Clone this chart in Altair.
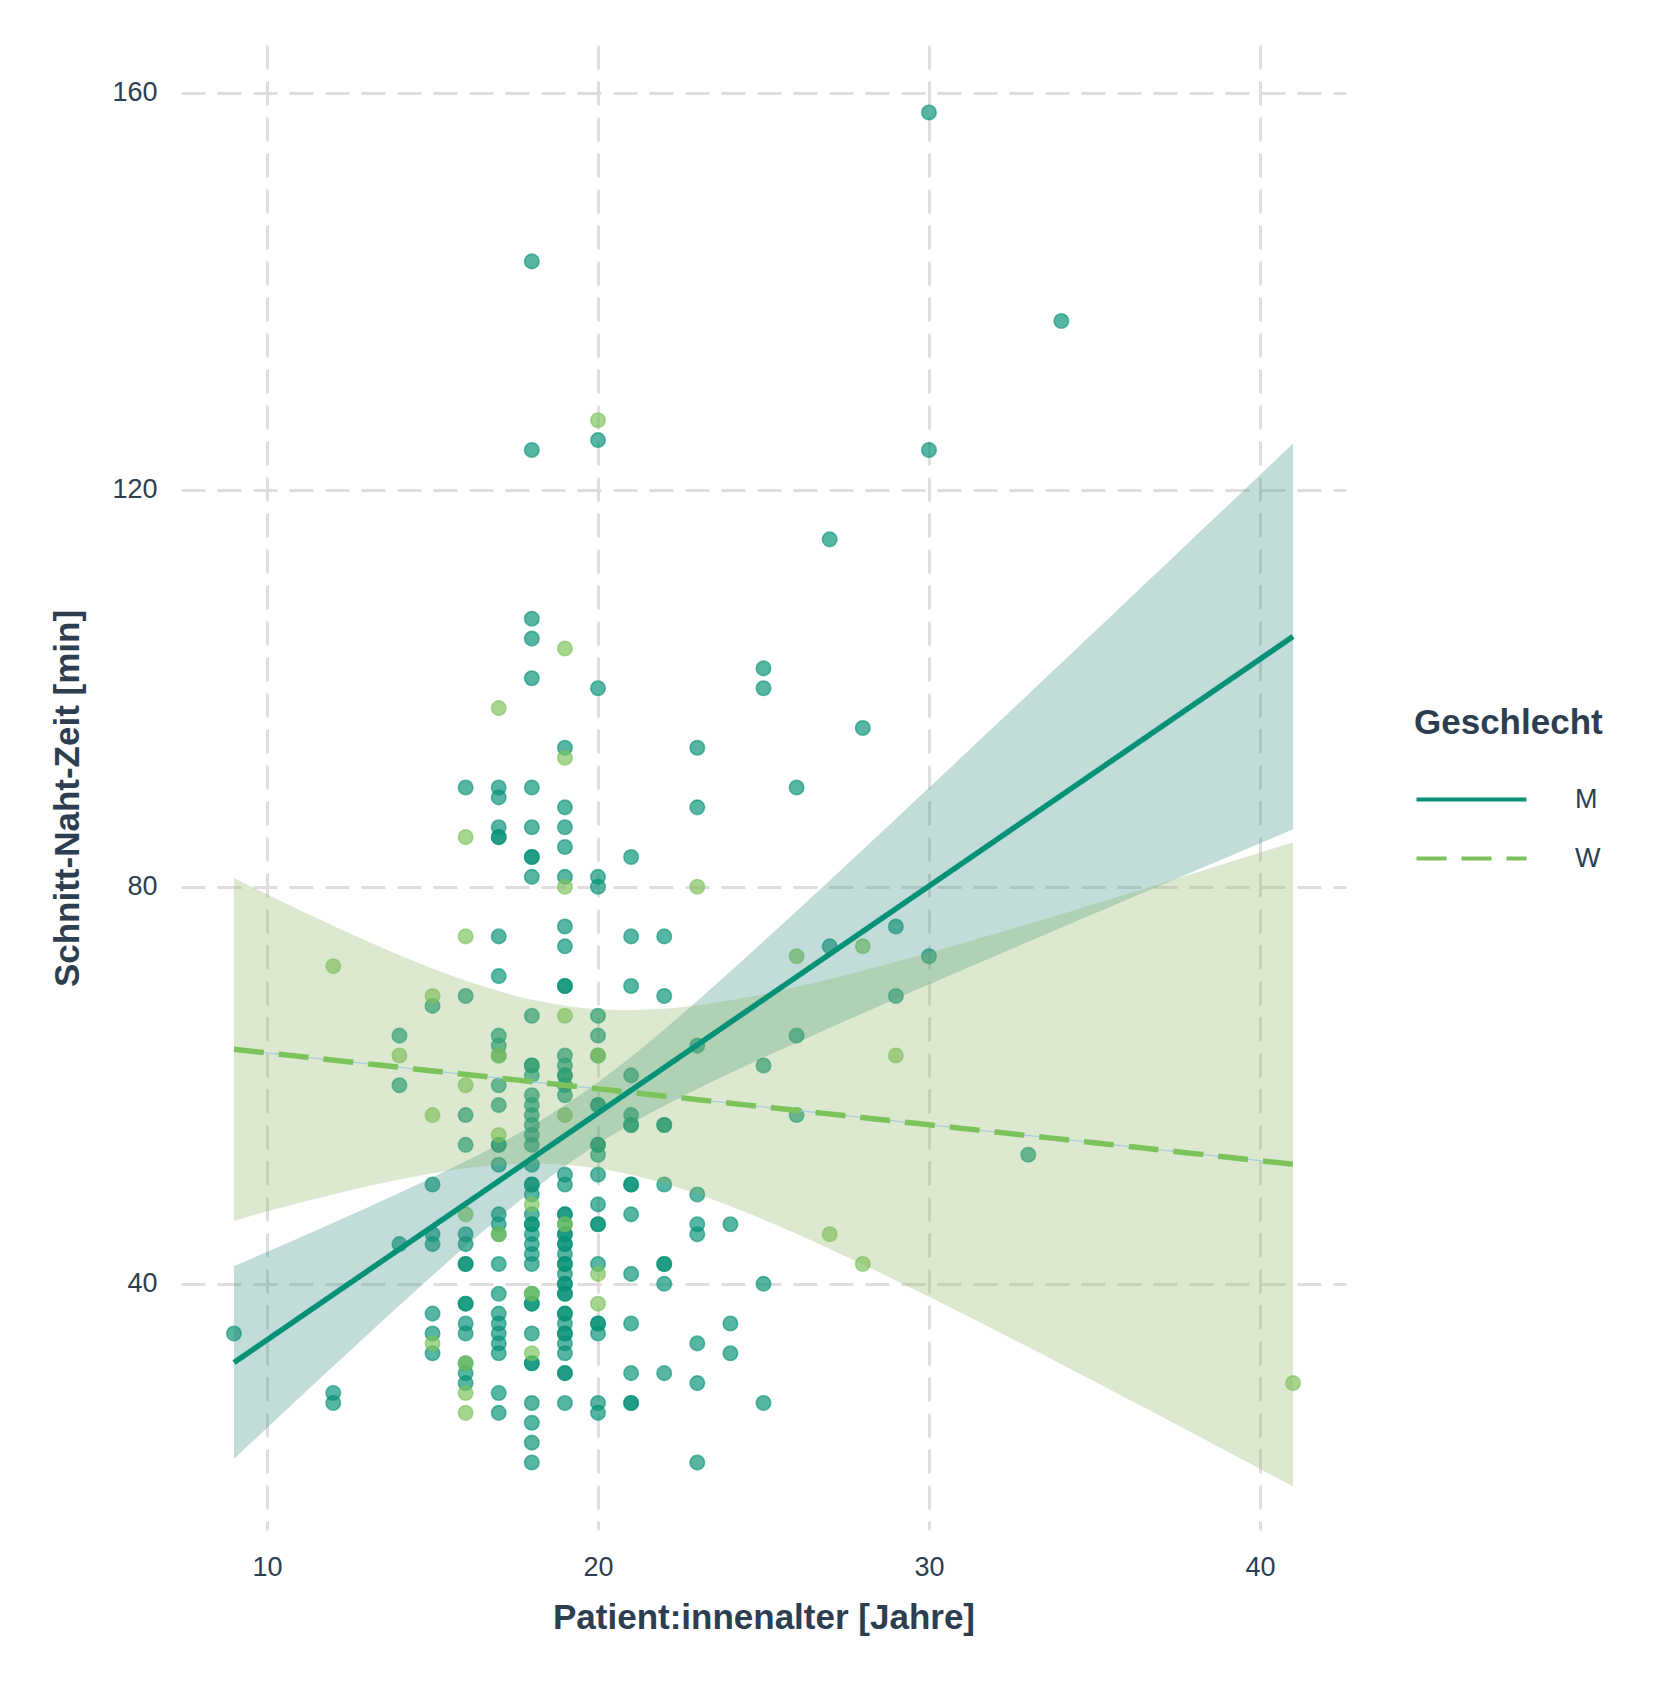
import numpy as np
import pandas as pd
import altair as alt

# ---------------- data ----------------
# Geschlecht M : ages and the cut-suture times observed at each age
m_ages = [9, 12, 14, 15, 16, 17, 18, 19, 20, 21, 22, 23, 24, 25, 26, 27, 28, 29, 30, 33, 34]
m_times = [
    [35],
    [29, 28],
    [65, 60, 44],
    [68, 50, 45, 44, 37, 35, 33],
    [90, 69, 57, 54, 45, 44, 42, 42, 38, 38, 36, 35, 32, 31, 30],
    [90, 89, 86, 85, 85, 75, 71, 65, 64, 63, 60, 58, 54, 54, 52, 47, 46, 45, 42, 39,
     37, 36, 35, 34, 33, 29, 27],
    [143, 124, 107, 105, 101, 90, 86, 83, 83, 81, 67, 62, 62, 61, 59, 58, 57, 56, 55,
     54, 52, 50, 50, 49, 47, 46, 46, 45, 44, 43, 42, 39, 38, 38, 35, 32, 32, 28, 26, 24, 22],
    [94, 88, 86, 84, 81, 76, 74, 70, 70, 63, 62, 61, 61, 60, 59, 51, 50, 47, 47, 46,
     45, 45, 44, 44, 43, 42, 42, 41, 40, 40, 39, 39, 37, 37, 36, 35, 35, 34, 33, 31, 31, 28],
    [125, 100, 81, 80, 67, 65, 63, 58, 58, 54, 54, 53, 51, 48, 46, 46, 42, 36, 36, 35, 28, 27],
    [83, 75, 70, 61, 57, 56, 56, 50, 50, 47, 41, 36, 31, 28, 28],
    [75, 69, 56, 56, 50, 42, 42, 40, 31],
    [94, 88, 64, 49, 46, 45, 34, 30, 22],
    [46, 36, 33],
    [102, 100, 62, 40, 28],
    [90, 65, 57],
    [115, 74],
    [96],
    [76, 69],
    [158, 124, 73],
    [53],
    [137],
]

# Geschlecht W
w_ages = [12, 14, 15, 16, 17, 18, 19, 20, 23, 26, 27, 28, 29, 41]
w_times = [
    [72],
    [63],
    [69, 57, 34],
    [85, 75, 60, 47, 32, 29, 27],
    [98, 63, 55, 45],
    [48, 39, 33],
    [104, 93, 80, 67, 57, 46],
    [127, 63, 41, 38],
    [80],
    [73],
    [45],
    [74, 42],
    [63],
    [30],
]

groups = ["M", "W"]
x_ticks = [10, 20, 30, 40]
y_ticks = [40, 80, 120, 160]
x_domain = [7.4, 42.6]      # axis range
y_domain = [15.2, 164.8]

line_colors = ["#079277", "#7CC35B"]
band_colors = ["#348E80", "#8AB662"]
text_color = "#2C3E50"
font = "Liberation Sans"


# ---------------- tidy tables ----------------
def flatten(ages, times, label):
    rows = []
    for a, ts in zip(ages, times):
        for t in ts:
            rows.append({"age": a, "time": t, "sex": label})
    return rows


pts = pd.DataFrame(flatten(m_ages, m_times, "M") + flatten(w_ages, w_times, "W"))


def t975(df):
    z = 1.959963985
    g1 = (z ** 3 + z) / 4
    g2 = (5 * z ** 5 + 16 * z ** 3 + 3 * z) / 96
    g3 = (3 * z ** 7 + 19 * z ** 5 + 17 * z ** 3 - 15 * z) / 384
    return z + g1 / df + g2 / df ** 2 + g3 / df ** 3


# linear model + 95% confidence band per group (as geom_smooth(method = "lm"))
xmin, xmax = pts["age"].min(), pts["age"].max()
grid = np.linspace(xmin, xmax, 80)

band_rows = []
for g in groups:
    sub = pts[pts["sex"] == g]
    x = sub["age"].to_numpy(float)
    y = sub["time"].to_numpy(float)
    n = len(x)
    xb = x.mean()
    sxx = ((x - xb) ** 2).sum()
    b1 = ((x - xb) * (y - y.mean())).sum() / sxx
    b0 = y.mean() - b1 * xb
    s2 = ((y - (b0 + b1 * x)) ** 2).sum() / (n - 2)
    fit = b0 + b1 * grid
    se = np.sqrt(s2 * (1 / n + (grid - xb) ** 2 / sxx))
    t = t975(n - 2)
    for gx, f, s in zip(grid, fit, se):
        band_rows.append({"age": gx, "fit": f, "lo": f - t * s, "hi": f + t * s, "sex": g})
band = pd.DataFrame(band_rows)

W, H = 1165, 1485

x_scale = alt.Scale(domain=x_domain, nice=False, zero=False)
y_scale = alt.Scale(domain=y_domain, nice=False, zero=False)

x_axis = alt.Axis(
    values=x_ticks,
    title="Patient:innenalter [Jahre]",
    titleX=W / 2,
    titleY=87,
    titleBaseline="middle",
    titleAlign="center",
    labelFlush=False,
    labelPadding=24,
)
y_axis = alt.Axis(
    values=y_ticks,
    title="Schnitt-Naht-Zeit [min]",
    titleX=-114,
    titleY=753,
    titleAngle=270,
    titleBaseline="middle",
    titleAlign="center",
    labelPadding=24,
)

X = alt.X("age:Q", scale=x_scale, axis=x_axis)


def Y(field):
    return alt.Y(field, type="quantitative", scale=y_scale, axis=y_axis)


# data-driven domain for the ribbon fill so its (hidden) legend stays separate
fill_scale = alt.Scale(range=band_colors)
color_scale = alt.Scale(domain=groups, range=line_colors)
dash_scale = alt.Scale(domain=groups, range=[[1, 0], [30, 15]])

legend = alt.Legend(
    title="Geschlecht",
    orient="none",
    legendX=1233,
    legendY=661,
    direction="vertical",
    symbolType="M-1,0H9",
    symbolSize=484,
    symbolStrokeWidth=4,
    labelFontSize=27,
    labelFont=font,
    labelColor=text_color,
    titleFontSize=35,
    titleFont=font,
    titleFontWeight="bold",
    titleColor=text_color,
    titleLimit=600,
    labelLimit=300,
    labelOffset=134,
    rowPadding=31,
    titlePadding=45,
    padding=0,
)


def point_layer(g, col):
    return (
        alt.Chart(pts)
        .transform_filter(alt.datum.sex == g)
        .mark_circle(
            size=210, opacity=1, fill=col, stroke=col,
            fillOpacity=0.68, strokeOpacity=0.6, strokeWidth=1.6,
        )
        .encode(x=X, y=Y("time"))
    )


points_m = point_layer("M", line_colors[0])
points_w = point_layer("W", line_colors[1])

ribbons = alt.Chart(band).mark_area(opacity=0.3).encode(
    x=X,
    y=Y("lo"),
    y2="hi:Q",
    fill=alt.Fill("sex:N", scale=fill_scale, legend=None),
)

thin = alt.Chart(band).transform_filter(alt.datum.sex == "W").mark_line(
    strokeWidth=1.2, color="#A9CBE0"
).encode(x=X, y=Y("fit"))

lines = alt.Chart(band).mark_line(strokeWidth=5.5).encode(
    x=X,
    y=Y("fit"),
    color=alt.Color("sex:N", scale=color_scale, legend=legend),
    strokeDash=alt.StrokeDash("sex:N", scale=dash_scale, legend=legend),
)

chart = (
    alt.layer(points_m, points_w, ribbons, thin, lines)
    .properties(
        width=W,
        height=H,
        padding={"left": 173, "top": 37, "right": 300, "bottom": 150},
        autosize=alt.AutoSizeParams(type="none"),
        background="white",
    )
    .configure_view(stroke=None)
    .configure_axis(
        grid=True,
        gridDash=[24, 12],
        gridColor="#DEDEDE",
        gridWidth=3,
        domain=False,
        ticks=False,
        labelFont=font,
        labelFontSize=27,
        labelColor=text_color,
        titleFont=font,
        titleFontSize=35,
        titleFontWeight="bold",
        titleColor=text_color,
    )
)

chart.save("out.html", embed_options={"renderer": "svg", "actions": False})
